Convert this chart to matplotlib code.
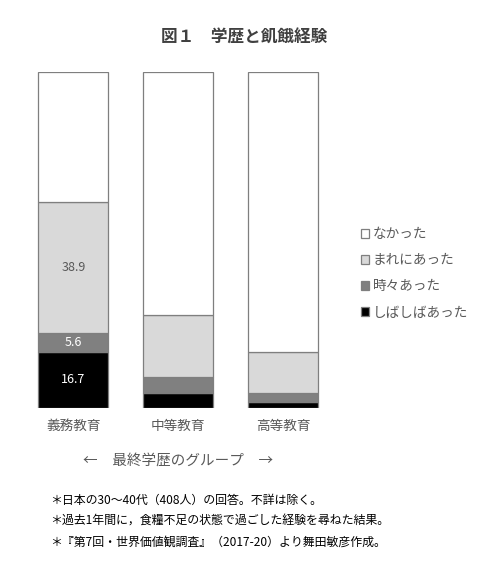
import numpy as np
import matplotlib.pyplot as plt

plt.rcParams['font.family'] = ['Noto Sans CJK JP', 'DejaVu Sans']

groups = ["義務教育", "中等教育", "高等教育"]
series = ["しばしばあった", "時々あった", "まれにあった", "なかった"]
often = [16.7, 4.3, 1.6]
sometimes = [5.6, 4.9, 2.9]
rarely = [38.9, 18.5, 12.2]
never = [38.8, 72.3, 83.3]
colors = ["#000000", "#808080", "#d9d9d9", "#ffffff"]
label_colors = ["white", "white", "#595959", "#595959"]
notes = [
    "＊日本の30～40代（408人）の回答。不詳は除く。",
    "＊過去1年間に，食糧不足の状態で過ごした経験を尋ねた結果。",
    "＊『第7回・世界価値観調査』（2017-20）より舞田敏彦作成。",
]

fig = plt.figure(figsize=(5, 5.83), dpi=100)
ax = fig.add_axes([0.0416, 0.3007, 0.63, 0.5763])

x = np.arange(len(groups))
bottom = np.zeros(len(groups))
handles = []
for name, vals, c, lc in zip(series, [often, sometimes, rarely, never], colors, label_colors):
    vals = np.array(vals)
    bars = ax.bar(x, vals, 0.667, bottom=bottom, color=c, edgecolor="#7f7f7f",
                  linewidth=0.9, label=name)
    handles.append(bars)
    # only the first group carries value labels
    if name != "なかった":
        ax.text(x[0], bottom[0] + vals[0] / 2, f"{vals[0]:.1f}", ha="center",
                va="center", color=lc, fontsize=9)
    bottom += vals

ax.set_xlim(-0.5, 2.5)
ax.set_ylim(0, 100)
ax.set_xticks(x)
ax.set_xticklabels(groups, fontsize=9.8, color="#595959")
ax.tick_params(axis="x", length=0, pad=8)
ax.set_yticks([])
for s in ax.spines.values():
    s.set_visible(False)

leg = ax.legend(handles[::-1], series[::-1], loc="center left",
                bbox_to_anchor=(1.04, 0.40), frameon=False, fontsize=9.8,
                handlelength=0.65, handleheight=0.65, handletextpad=0.25,
                labelspacing=0.9)
for t in leg.get_texts():
    t.set_color("#595959")

fig.text(0.488, 1 - 38 / 583, "図１　学歴と飢餓経験", ha="center", va="center",
         fontsize=12, fontweight="bold", color="#404040")
fig.text(0.357, 1 - 461 / 583, "←　最終学歴のグループ　→", ha="center", va="center",
         fontsize=10.5, color="#595959")
for i, n in enumerate(notes):
    fig.text(0.1, 1 - (500 + 21 * i) / 583, n, ha="left", va="center",
             fontsize=8.6, color="#000000")

fig.savefig("out.png", dpi=100)
